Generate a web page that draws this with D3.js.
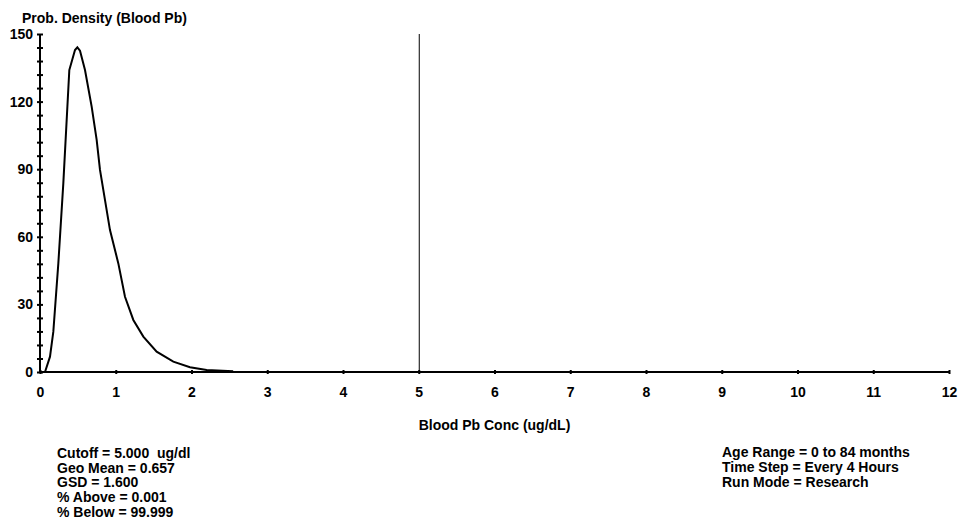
<!DOCTYPE html>
<html>
<head>
<meta charset="utf-8">
<script src="https://cdn.jsdelivr.net/npm/d3@7"></script>
<style>
  body { margin: 0; background: #fff; }
  svg text { font-family: "Liberation Sans", Arial, sans-serif; font-weight: bold; font-size: 14px; fill: #000; white-space: pre; }
</style>
</head>
<body>
<div id="chart"></div>
<script>
// density curve
const concValues = [0.066, 0.132, 0.176, 0.242, 0.308, 0.387, 0.462, 0.493, 0.528, 0.594, 0.682, 0.748, 0.792, 0.924, 1.034, 1.122, 1.232, 1.364, 1.54, 1.76, 1.98, 2.2, 2.55];
const densityValues = [0, 6.8, 17.9, 48.2, 83.8, 134, 142.9, 144.1, 142.6, 134, 117.8, 103, 89.7, 63, 48.2, 33.4, 23.1, 15.7, 9.0, 4.6, 2.1, 0.9, 0.3];
const cutoff = 5;
const xTicks = [0, 1, 2, 3, 4, 5, 6, 7, 8, 9, 10, 11, 12];
const yTicks = [0, 30, 60, 90, 120, 150];
const statsLeft = ['Cutoff = 5.000  ug/dl', 'Geo Mean = 0.657', 'GSD = 1.600', '% Above = 0.001', '% Below = 99.999'];
const statsRight = ['Age Range = 0 to 84 months', 'Time Step = Every 4 Hours', 'Run Mode = Research'];

const svg = d3.select('#chart').append('svg')
  .attr('width', 961)
  .attr('height', 529);

const x = d3.scaleLinear().domain([0, 12]).range([40, 949]);
const y = d3.scaleLinear().domain([0, 150]).range([372, 34]);

// y axis, minor ticks every 6
const yAxis = svg.append('g')
  .attr('transform', 'translate(40,0)')
  .call(d3.axisLeft(y).tickValues(d3.range(0, 151, 6))
    .tickFormat(d => yTicks.includes(d) ? d : '')
    .tickSize(3).tickPadding(4));
yAxis.select('.domain').attr('d', `M0,${y(150)}V${y(0)}`).attr('stroke-width', 2);
yAxis.selectAll('.tick line').attr('x1', -3).attr('x2', 3).attr('stroke-width', 2);
yAxis.selectAll('.tick text').attr('font-size', null).attr('font-family', null);

// x axis
const xAxis = svg.append('g')
  .attr('transform', 'translate(0,372)')
  .call(d3.axisBottom(x).tickValues(xTicks).tickSize(2).tickPadding(13));
xAxis.select('.domain').attr('d', `M${x(0)},0H${x(12)}`).attr('stroke-width', 2);
xAxis.selectAll('.tick line').attr('y1', -2).attr('y2', 2).attr('stroke-width', 2);
xAxis.selectAll('.tick text').attr('font-size', null).attr('font-family', null);

// cutoff line
svg.append('line')
  .attr('x1', x(cutoff) + 0.5).attr('x2', x(cutoff) + 0.5)
  .attr('y1', y(150)).attr('y2', y(0))
  .attr('stroke', '#000').attr('stroke-width', 1);

// density curve
const pts = concValues.map((c, i) => [c, densityValues[i]]);
svg.append('path')
  .datum(pts)
  .attr('fill', 'none')
  .attr('stroke', '#000')
  .attr('stroke-width', 2)
  .attr('d', d3.line().x(d => x(d[0])).y(d => y(d[1])));

// titles
svg.append('text').attr('x', 22).attr('y', 23).text('Prob. Density (Blood Pb)');
svg.append('text').attr('x', (x(0) + x(12)) / 2).attr('y', 430)
  .attr('text-anchor', 'middle').text('Blood Pb Conc (ug/dL)');

// stats
svg.selectAll('.stat-left').data(statsLeft).enter().append('text')
  .attr('class', 'stat-left')
  .attr('x', 57).attr('y', (d, i) => 458 + i * 14.7)
  .text(d => d);
svg.selectAll('.stat-right').data(statsRight).enter().append('text')
  .attr('class', 'stat-right')
  .attr('x', 722).attr('y', (d, i) => 457 + i * 15)
  .text(d => d);
</script>
</body>
</html>
